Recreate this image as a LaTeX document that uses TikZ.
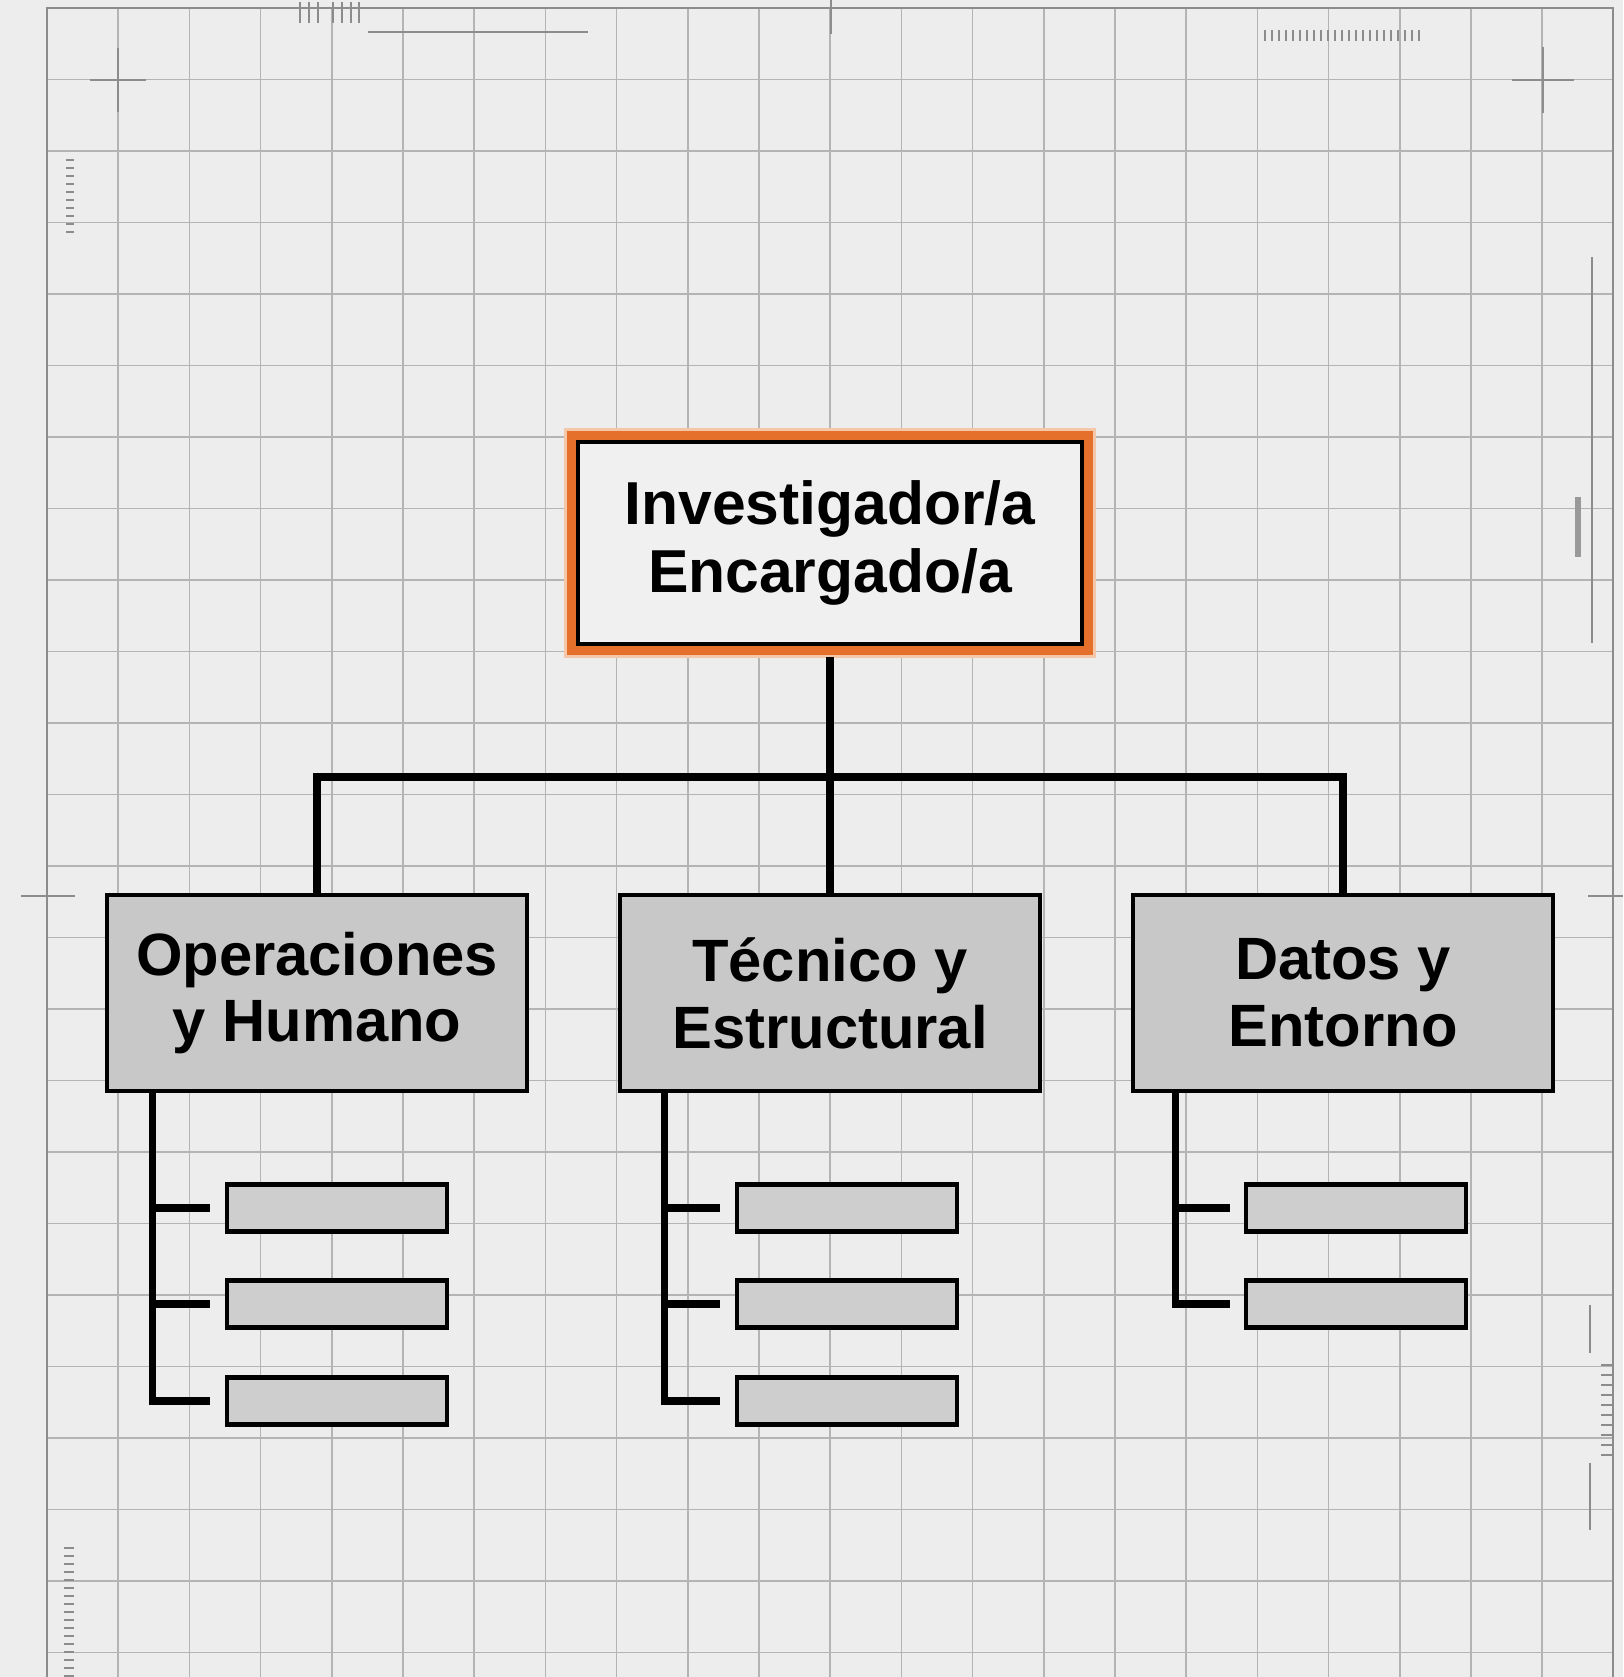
\documentclass[tikz,border=0pt]{standalone}
\usepackage{fontspec}
\setmainfont{Liberation Sans}
\usetikzlibrary{calc}
\definecolor{paper}{HTML}{EDEDED}
\definecolor{gridgray}{HTML}{B4B4B4}
\definecolor{edgegray}{HTML}{8C8C8C}
\definecolor{orangeframe}{HTML}{E4702C}
\definecolor{orangeglow}{HTML}{F3C7A8}
\definecolor{headfill}{HTML}{F0F0F0}
\definecolor{areafill}{HTML}{C8C8C8}
\definecolor{itemfill}{HTML}{CECECE}
\tikzset{
	gridline/.style={draw=gridgray, line width=0.85pt},
	edgeline/.style={draw=edgegray, line width=1.4pt},
	tickmark/.style={draw=edgegray, line width=1pt},
	head/.style={rectangle, draw=black, line width=2.4pt, fill=headfill, minimum width=10.08cm, minimum height=4.04cm, align=center, font=\bfseries\fontsize{34.5}{39}\selectfont, preaction={draw=orangeglow, line width=16pt}, preaction={draw=orangeframe, line width=12.5pt}},
	area/.style={rectangle, draw=black, line width=2.3pt, fill=areafill, minimum width=8.42cm, minimum height=3.92cm, align=center, font=\bfseries\fontsize{34}{38}\selectfont},
	item/.style={rectangle, draw=black, line width=2.6pt, fill=itemfill, minimum width=4.4cm, minimum height=0.94cm},
	link/.style={draw=black, line width=4.1pt, line join=miter}
}
\begin{document}
\begin{tikzpicture}[x=0.02cm, y=-0.02cm]
		\useasboundingbox (0,0) rectangle (1623,1677);
		\fill[paper] (0,0) rectangle (1623,1677);
		
		\foreach \i in {1,...,21} \draw[gridline] ({47+71.2*\i},8) -- ({47+71.2*\i},1677);
		\foreach \j in {1,...,23} \draw[gridline] (47,{8+71.5*\j}) -- (1613,{8+71.5*\j});
		\draw[edgeline] (47,1677) -- (47,8) -- (1613,8) -- (1613,1677);
		
		\draw[edgeline] (90,80) -- (146,80) (118,48) -- (118,112);
		\draw[edgeline] (1512,80) -- (1574,80) (1543,47) -- (1543,113);
		\draw[edgeline] (831,0) -- (831,34);
		\draw[edgeline] (21,896) -- (75,896);
		\draw[edgeline] (1588,896) -- (1623,896);
		\foreach \xx in {300,309,318,333,342,351,359} \draw[tickmark] (\xx,2) -- (\xx,23);
		\draw[tickmark] (368,32) -- (588,32);
		\foreach \xx in {1265,1272,...,1420} \draw[tickmark] (\xx,30) -- (\xx,41);
		\foreach \yy in {160,168,...,236} \draw[tickmark] (66,\yy) -- (74,\yy);
		\foreach \yy in {1548,1556,...,1676} \draw[tickmark] (64,\yy) -- (74,\yy);
		\draw[tickmark] (1592,257) -- (1592,643);
		\draw[draw=gray!80, line width=3.4pt] (1578,497) -- (1578,557);
		\draw[tickmark] (1590,1305) -- (1590,1353) (1590,1463) -- (1590,1530);
		\foreach \yy in {1365,1375,...,1455} \draw[tickmark] (1601,\yy) -- (1613,\yy);
		
		\node[head] (boss) at (830,543) {Investigador/a\\Encargado/a};
		
		\node[area] (ops) at (317,993) {Operaciones\\y Humano};
		\node[area] (tec) at (830,993) {Técnico y\\Estructural};
		\node[area] (dat) at (1343,993) {Datos y\\Entorno};
		
		\coordinate (bar) at (830,777);
		\draw[link] ([yshift=-0.22cm]boss.south) -- (tec.north);
		\draw[link] (ops.north) |- (bar) -| (dat.north);
		
		\foreach \k/\yy in {1/1208,2/1304,3/1401} {
			\node[item] (o\k) at (337,\yy) {};
			\node[item] (t\k) at (847,\yy) {};
		}
		\foreach \k/\yy in {1/1208,2/1304} \node[item] (d\k) at (1356,\yy) {};
		
		\coordinate (ospine) at ([xshift=0.96cm]ops.south west);
		\coordinate (tspine) at ([xshift=0.94cm]tec.south west);
		\coordinate (dspine) at ([xshift=0.9cm]dat.south west);
		\draw[link] (ospine) |- ([xshift=-0.3cm]o3.west);
		\draw[link] (tspine) |- ([xshift=-0.3cm]t3.west);
		\draw[link] (dspine) |- ([xshift=-0.28cm]d2.west);
		\foreach \k in {1,2} {
			\draw[link] (ospine |- o\k.west) -- ([xshift=-0.3cm]o\k.west);
			\draw[link] (tspine |- t\k.west) -- ([xshift=-0.3cm]t\k.west);
		}
		\draw[link] (dspine |- d1.west) -- ([xshift=-0.28cm]d1.west);
	\end{tikzpicture}
\end{document}
